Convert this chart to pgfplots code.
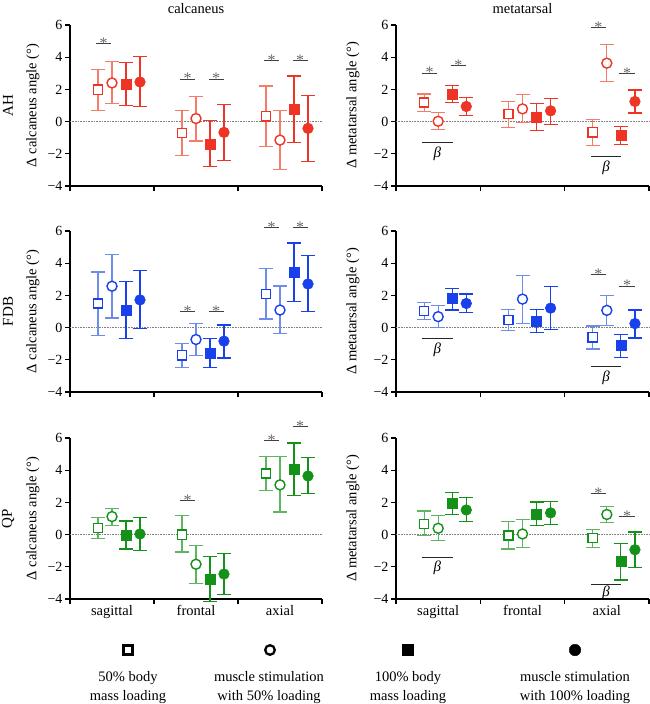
\documentclass[border=0pt]{standalone}
\usepackage{fontspec}
\setmainfont{Liberation Serif}
\usepackage{pgfplots}
\usepackage{pgfplotstable}
\pgfplotsset{compat=1.18}

\definecolor{rD}{RGB}{238,52,36}
\definecolor{rL}{RGB}{243,125,105}
\definecolor{bD}{RGB}{25,65,235}
\definecolor{bL}{RGB}{110,140,235}
\definecolor{gD}{RGB}{20,145,25}
\definecolor{gL}{RGB}{95,180,95}

\pgfplotstableread{
g ya la ha yb lb hb yc lc hc yd ld hd
0 1.98 0.67 3.25 2.40 1.10 3.73 2.29 0.98 3.67 2.46 0.94 4.02
1 -0.71 -2.13 0.71 0.19 -1.21 1.58 -1.40 -2.79 0.06 -0.67 -2.40 1.06
2 0.33 -1.54 2.21 -1.15 -2.96 0.71 0.75 -1.29 2.83 -0.42 -2.46 1.60
}\AHc
\pgfplotstableread{
g ya la ha yb lb hb yc lc hc yd ld hd
0 1.19 0.63 1.71 0.02 -0.50 0.58 1.69 1.17 2.23 0.94 0.40 1.48
1 0.46 -0.35 1.25 0.79 -0.06 1.67 0.29 -0.56 1.12 0.67 -0.17 1.44
2 -0.67 -1.46 0.12 3.63 2.50 4.79 -0.88 -1.44 -0.31 1.25 0.54 1.96
}\AHm
\pgfplotstableread{
g ya la ha yb lb hb yc lc hc yd ld hd
0 1.50 -0.47 3.45 2.57 0.60 4.56 1.09 -0.66 2.87 1.72 -0.06 3.55
1 -1.72 -2.46 -0.99 -0.74 -1.72 0.25 -1.58 -2.46 -0.68 -0.84 -1.89 0.16
2 2.09 0.53 3.68 1.09 -0.37 2.59 3.45 1.64 5.26 2.71 0.99 4.50
}\FDBc
\pgfplotstableread{
g ya la ha yb lb hb yc lc hc yd ld hd
0 1.03 0.49 1.56 0.68 0.00 1.38 1.79 1.09 2.44 1.50 0.92 2.09
1 0.47 -0.18 1.13 1.77 0.25 3.24 0.41 -0.31 1.13 1.21 -0.10 2.53
2 -0.60 -1.33 0.10 1.07 0.14 1.97 -1.13 -1.85 -0.43 0.25 -0.64 1.09
}\FDBm
\pgfplotstableread{
g ya la ha yb lb hb yc lc hc yd ld hd
0 0.41 -0.22 1.04 1.12 0.59 1.62 -0.06 -0.90 0.84 0.04 -1.00 1.08
1 0.00 -1.08 1.17 -1.84 -3.05 -0.67 -2.78 -4.17 -1.37 -2.45 -3.70 -1.19
2 3.80 2.72 4.87 3.09 1.41 4.87 4.07 2.45 5.69 3.64 2.54 4.79
}\QPc
\pgfplotstableread{
g ya la ha yb lb hb yc lc hc yd ld hd
0 0.67 -0.08 1.47 0.39 -0.35 1.17 1.94 1.27 2.62 1.53 0.82 2.29
1 -0.06 -0.90 0.80 0.04 -0.82 0.92 1.29 0.55 2.02 1.35 0.63 2.07
2 -0.22 -0.82 0.31 1.25 0.76 1.74 -1.68 -2.82 -0.53 -0.94 -2.04 0.16
}\QPm

\pgfplotsset{
  panel/.style={
    scale only axis, width=252pt, height=161pt,
    xmin=-0.5, xmax=2.5, ymin=-4, ymax=6,
    axis x line*=bottom, axis y line*=left,
    axis line style={-, line width=1.2pt, black},
    ytick={-4,-2,0,2,4,6}, yticklabels={−4,−2,0,2,4,6},
    xtick={-0.5,0.5,1.5,2.5}, xticklabels={},
    tick align=outside, major tick length=5pt,
    tick style={line width=1.2pt, black},
    yticklabel style={font=\fontsize{14}{14}\selectfont, xshift=1pt},
    ylabel style={font=\fontsize{14.5}{16}\selectfont, anchor=center},
    clip=false,
  },
  bottomrow/.style={
    extra x ticks={0,1,2}, extra x tick labels={sagittal,frontal,axial},
    extra x tick style={major tick length=0pt,
      tick label style={font=\fontsize{14.5}{16}\selectfont, yshift=-3pt}},
  },
  errset/.style={
    error bars/y dir=both, error bars/y explicit,
    error bars/error bar style={#1, line width=1.2pt},
    error bars/error mark options={#1, rotate=90, mark size=7pt, line width=1.2pt},
  },
}

\newcommand{\fourseries}[3]{%
  \draw[densely dotted, gray, line width=0.6pt] (axis cs:-0.5,0) -- (axis cs:2.5,0);
  \addplot[only marks, mark=square*, mark size=4.6pt,
    mark options={draw=#2, fill=white, line width=1.4pt}, errset=#3]
    table[x expr=\thisrow{g}-0.1667, y=ya, y error plus expr=\thisrow{ha}-\thisrow{ya}, y error minus expr=\thisrow{ya}-\thisrow{la}] {#1};
  \addplot[only marks, mark=*, mark size=5pt,
    mark options={draw=#2, fill=white, line width=1.4pt}, errset=#3]
    table[x expr=\thisrow{g}, y=yb, y error plus expr=\thisrow{hb}-\thisrow{yb}, y error minus expr=\thisrow{yb}-\thisrow{lb}] {#1};
  \addplot[only marks, mark=square*, mark size=5pt,
    mark options={draw=#2, fill=#2, line width=0.6pt}, errset=#2]
    table[x expr=\thisrow{g}+0.1667, y=yc, y error plus expr=\thisrow{hc}-\thisrow{yc}, y error minus expr=\thisrow{yc}-\thisrow{lc}] {#1};
  \addplot[only marks, mark=*, mark size=5.3pt,
    mark options={draw=#2, fill=#2, line width=0.6pt}, errset=#2]
    table[x expr=\thisrow{g}+0.3333, y=yd, y error plus expr=\thisrow{hd}-\thisrow{yd}, y error minus expr=\thisrow{yd}-\thisrow{ld}] {#1};
}

% significance: x1, x2, xmid, y
\newcommand{\sig}[4]{%
  \draw[black!75, line width=0.8pt] (axis cs:#1,#4) -- (axis cs:#2,#4);
  \node[anchor=base, inner sep=0pt, yshift=-5pt, text=black!60, font=\fontsize{16}{16}\selectfont] at (axis cs:#3,#4) {*};}
% beta: x1, x2, xmid, y, label offset
\newcommand{\bsig}[5]{%
  \draw[black!85, line width=0.8pt] (axis cs:#1,#4) -- (axis cs:#2,#4);
  \node[inner sep=0pt, yshift=-#5, font=\fontsize{15}{15}\selectfont] at (axis cs:#3,#4) {\textit{β}};}

\newcommand{\rowlabel}[1]{\node[rotate=90, font=\fontsize{15}{16}\selectfont] at (rel axis cs:-0.246,0.5) {#1};}

\begin{document}
\begin{tikzpicture}[x=1pt,y=1pt]
\useasboundingbox (0,0) rectangle (650,-704);

% ---------- Row 1: AH ----------
\begin{axis}[panel, at={(70pt,-186pt)}, anchor=south west,
  ylabel={Δ calcaneus angle (°)}, ylabel style={at={(rel axis cs:-0.147,0.5)}}]
  \fourseries{\AHc}{rD}{rL}
  \sig{-0.19}{-0.01}{-0.10}{4.83}
  \sig{0.81}{0.99}{0.90}{2.65}\sig{1.15}{1.33}{1.24}{2.65}
  \sig{1.81}{1.99}{1.90}{3.79}\sig{2.15}{2.33}{2.24}{3.79}
  \rowlabel{AH}
  \node[font=\fontsize{14.5}{16}\selectfont] at (rel axis cs:0.5,1.105) {calcaneus};
\end{axis}
\begin{axis}[panel, at={(396pt,-186pt)}, anchor=south west, width=253pt,
  ylabel={Δ metatarsal angle (°)}, ylabel style={at={(rel axis cs:-0.17,0.5)}}]
  \fourseries{\AHm}{rD}{rL}
  \sig{-0.19}{-0.01}{-0.10}{3.02}\sig{0.15}{0.33}{0.24}{3.5}
  \bsig{-0.19}{0.17}{-0.01}{-1.27}{12pt}
  \sig{1.81}{1.99}{1.90}{5.83}\sig{2.15}{2.33}{2.24}{3.0}
  \bsig{1.81}{2.17}{1.99}{-2.14}{12pt}
  \node[font=\fontsize{14.5}{16}\selectfont] at (rel axis cs:0.5,1.105) {metatarsal};
\end{axis}

% ---------- Row 2: FDB ----------
\begin{axis}[panel, at={(70pt,-392pt)}, anchor=south west,
  ylabel={Δ calcaneus angle (°)}, ylabel style={at={(rel axis cs:-0.147,0.5)}}]
  \fourseries{\FDBc}{bD}{bL}
  \sig{0.81}{0.99}{0.90}{1.03}\sig{1.15}{1.33}{1.24}{1.03}
  \sig{1.81}{1.99}{1.90}{6.22}\sig{2.15}{2.33}{2.24}{6.22}
  \rowlabel{FDB}
\end{axis}
\begin{axis}[panel, at={(396pt,-392pt)}, anchor=south west, width=253pt,
  ylabel={Δ metatarsal angle (°)}, ylabel style={at={(rel axis cs:-0.17,0.5)}}]
  \fourseries{\FDBm}{bD}{bL}
  \bsig{-0.19}{0.17}{-0.01}{-0.70}{11pt}
  \sig{1.81}{1.99}{1.90}{3.31}\sig{2.15}{2.33}{2.24}{2.59}
  \bsig{1.81}{2.17}{1.99}{-2.44}{11pt}
\end{axis}

% ---------- Row 3: QP ----------
\begin{axis}[panel, bottomrow, at={(70pt,-599pt)}, anchor=south west,
  ylabel={Δ calcaneus angle (°)}, ylabel style={at={(rel axis cs:-0.147,0.5)}}]
  \fourseries{\QPc}{gD}{gL}
  \sig{0.81}{0.99}{0.90}{2.13}
  \sig{1.81}{1.99}{1.90}{5.87}\sig{2.15}{2.33}{2.24}{6.73}
  \rowlabel{QP}
\end{axis}
\begin{axis}[panel, bottomrow, at={(396pt,-599pt)}, anchor=south west, width=253pt,
  ylabel={Δ metatarsal angle (°)}, ylabel style={at={(rel axis cs:-0.17,0.5)}}]
  \fourseries{\QPm}{gD}{gL}
  \bsig{-0.19}{0.17}{-0.01}{-1.43}{10pt}
  \sig{1.81}{1.99}{1.90}{2.56}\sig{2.15}{2.33}{2.24}{1.10}
  \bsig{1.81}{2.17}{1.99}{-3.09}{8pt}
\end{axis}

% ---------- Legend ----------
\begin{axis}[at={(0pt,-704pt)}, anchor=south west, scale only axis,
  width=650pt, height=84pt, xmin=0, xmax=650, ymin=-704, ymax=-620,
  hide axis, clip=false]
  \addplot[only marks, mark=square*, mark size=4.6pt, mark options={draw=black, fill=white, line width=2.3pt}] coordinates {(128,-650)};
  \addplot[only marks, mark=*, mark size=4.8pt, mark options={draw=black, fill=white, line width=2.3pt}] coordinates {(270,-650)};
  \addplot[only marks, mark=square*, mark size=5.6pt, mark options={draw=black, fill=black}] coordinates {(408,-650)};
  \addplot[only marks, mark=*, mark size=5.8pt, mark options={draw=black, fill=black}] coordinates {(575,-650)};
  \begin{scope}[every node/.style={align=center, font=\fontsize{14.5}{19}\selectfont}]
  \node at (axis cs:128,-687.5) {50\% body\\mass loading};
  \node at (axis cs:269,-687.5) {muscle stimulation\\with 50\% loading};
  \node at (axis cs:408,-687.5) {100\% body\\mass loading};
  \node at (axis cs:575,-687.5) {muscle stimulation\\with 100\% loading};
  \end{scope}
\end{axis}
\end{tikzpicture}
\end{document}
